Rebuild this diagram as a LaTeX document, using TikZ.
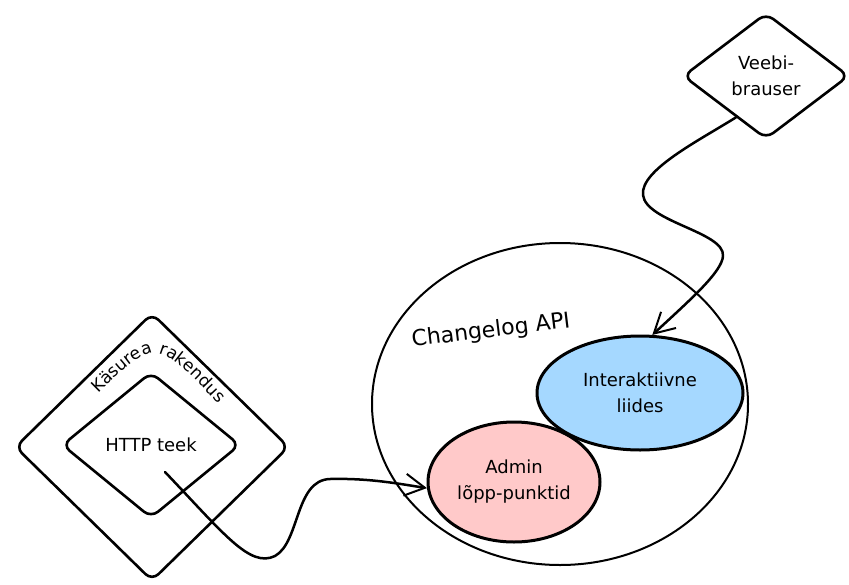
\documentclass[tikz,border=0pt]{standalone}
\usepackage{fontspec}
\setmainfont{DejaVu Sans}
\usetikzlibrary{shapes.geometric,arrows.meta,decorations.text}
\definecolor{apiblue}{HTML}{A5D8FF}
\definecolor{apipink}{HTML}{FFC9C9}
\begin{document}
\begin{tikzpicture}[x=1pt,y=-1pt,
  every node/.style={font=\fontsize{18}{26}\selectfont, align=center, text=black},
  shp/.style={draw=black, line width=2.6pt, inner sep=0pt},
  dia/.style={shp, shape=diamond, rounded corners=9pt},
  ell/.style={shp, shape=ellipse},
  wire/.style={draw=black, line width=2.5pt, line cap=round, line join=round,
    -{Straight Barb[length=20pt,width=22pt,line width=2pt]}},
]
\useasboundingbox (0,0) rectangle (849,584);

% command-line client with its HTTP library
\node[dia, minimum width=274pt, minimum height=268pt] (cli) at (152,447) {};
\node[dia, minimum width=178pt, minimum height=146pt] (http) at (151,445) {HTTP teek};
\path[decorate, decoration={text along path, text align=center,
    text={|\fontsize{17}{20}\selectfont|Käsurea rakendus}}]
  (90,402) .. controls (120,372) and (138,354) .. (155,353)
  .. controls (172,353) and (198,382) .. (226,412);

% web browser
\node[dia, minimum width=166pt, minimum height=126pt] (veebi) at (766,76) {Veebi-\\brauser};

% Changelog API and its parts
\node[ell, line width=2pt, minimum width=376pt, minimum height=322pt] (api) at (560,404) {};
\node[rotate=7, font=\fontsize{22}{26}\selectfont] (apiLabel) at (491,331) {Changelog API};
\node[ell, fill=apiblue, line width=3pt, minimum width=206pt, minimum height=114pt] (blue) at (640,393) {Interaktiivne\\liides};
\node[ell, fill=apipink, line width=3pt, minimum width=172pt, minimum height=120pt] (admin) at (514,482) {Admin\\lõpp-punktid};

% connectors
\draw[wire] (veebi.234) .. controls (700,140) and (640,170) .. (643,195)
  .. controls (646,222) and (725,232) .. (723,256)
  .. controls (722,272) and (690,300) .. (blue.78);

\coordinate (cliStart) at (165,472);
\draw[wire] (cliStart) .. controls (225,535) and (250,568) .. (275,556)
  .. controls (300,542) and (295,480) .. (330,479)
  .. controls (370,478) and (400,484) .. (admin.184);
\end{tikzpicture}
\end{document}
